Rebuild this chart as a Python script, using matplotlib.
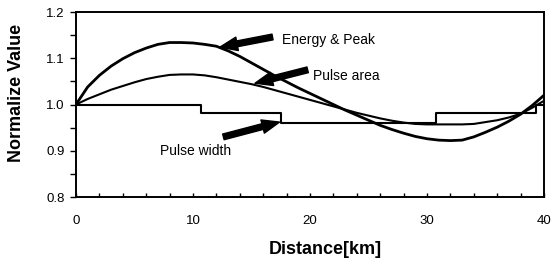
import matplotlib
matplotlib.use('Agg')
import matplotlib.pyplot as plt
from matplotlib.ticker import MultipleLocator

plt.rcParams['font.family'] = ['Liberation Sans', 'DejaVu Sans']

# distance grid (km) and normalized values
dist = list(range(0, 41))
energy = [1.000, 1.038, 1.063, 1.083, 1.099, 1.112, 1.122, 1.130, 1.134, 1.134,
          1.133, 1.130, 1.126, 1.116, 1.104, 1.090, 1.076, 1.062, 1.049, 1.036,
          1.024, 1.012, 1.000, 0.988, 0.977, 0.966, 0.955, 0.946, 0.938, 0.931,
          0.926, 0.923, 0.922, 0.923, 0.930, 0.940, 0.951, 0.964, 0.979, 0.998,
          1.020]
pulse_area = [1.000, 1.012, 1.022, 1.032, 1.040, 1.048, 1.055, 1.060, 1.064, 1.065,
              1.065, 1.063, 1.059, 1.054, 1.049, 1.044, 1.038, 1.031, 1.024, 1.017,
              1.010, 1.003, 0.996, 0.989, 0.982, 0.976, 0.970, 0.965, 0.961, 0.958,
              0.957, 0.957, 0.957, 0.957, 0.958, 0.962, 0.966, 0.972, 0.980, 0.993,
              1.008]
pw_dist = [0, 10.7, 17.5, 30.8, 39.3, 40]
pulse_width = [1.000, 0.982, 0.961, 0.982, 0.998, 0.998]

fig = plt.figure(figsize=(5.53, 2.71), dpi=100)
ax = fig.add_axes([0.1374, 0.273, 0.8463, 0.6827])

ax.plot(dist, energy, color='black', lw=2.0)
ax.plot(dist, pulse_area, color='black', lw=1.5)
ax.plot(pw_dist, pulse_width, drawstyle='steps-post', color='black', lw=1.5)

ax.set_xlim(0, 40)
ax.set_ylim(0.8, 1.2)
ax.xaxis.set_major_locator(MultipleLocator(10))
ax.xaxis.set_minor_locator(MultipleLocator(2))
ax.yaxis.set_major_locator(MultipleLocator(0.1))
ax.yaxis.set_minor_locator(MultipleLocator(0.05))
ax.yaxis.set_major_formatter(plt.FormatStrFormatter('%.1f'))
ax.tick_params(axis='x', which='both', direction='in', length=3, width=1, pad=13,
               labelsize=9.5)
ax.tick_params(axis='y', which='both', direction='out', length=4, width=1, pad=4,
               labelsize=9.5)
for s in ax.spines.values():
    s.set_linewidth(1.4)

fig.text(325 / 553, 1 - 250 / 271, 'Distance[km]', fontsize=13, fontweight='bold',
         ha='center', va='center')
fig.text(17 / 553, 1 - 93 / 271, 'Normalize Value', fontsize=13, fontweight='bold',
         ha='center', va='center', rotation=90)

arrow = dict(arrowstyle='simple,head_width=0.7,head_length=0.9,tail_width=0.3',
             color='black', mutation_scale=14, shrinkA=0, shrinkB=0)
ax.annotate('', xy=(12.3, 1.124), xytext=(16.8, 1.146), arrowprops=arrow)
ax.annotate('', xy=(15.3, 1.046), xytext=(19.8, 1.075), arrowprops=arrow)
ax.annotate('', xy=(17.4, 0.962), xytext=(12.6, 0.930), arrowprops=arrow)

ax.text(17.6, 1.139, 'Energy & Peak', fontsize=10, va='center', ha='left')
ax.text(20.3, 1.062, 'Pulse area', fontsize=10, va='center', ha='left')
ax.text(7.2, 0.900, 'Pulse width', fontsize=10, va='center', ha='left')

fig.savefig('out.png', dpi=100)
